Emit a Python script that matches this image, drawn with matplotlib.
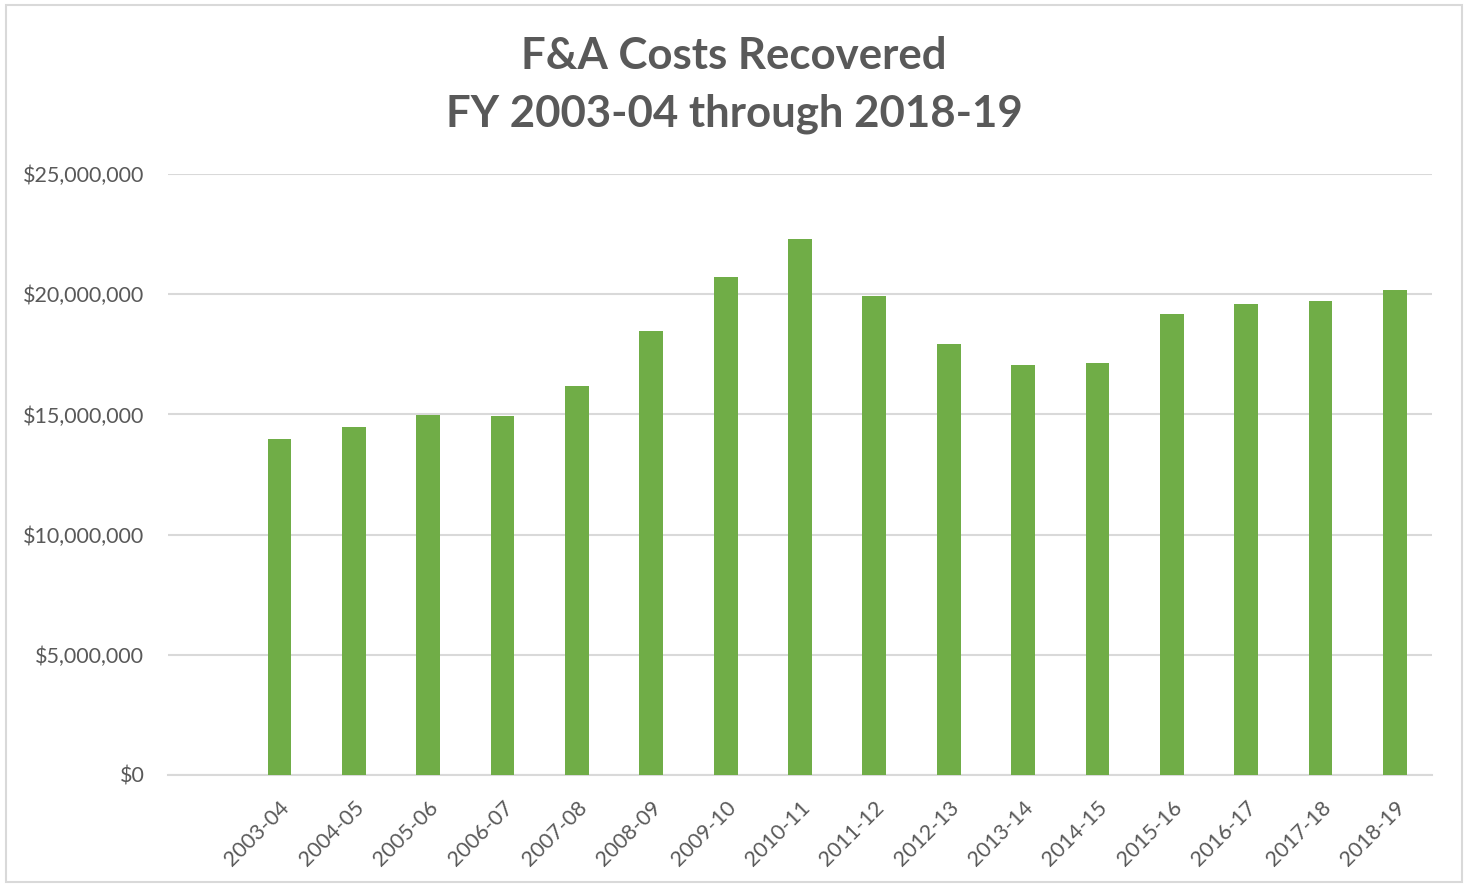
import matplotlib.pyplot as plt
from matplotlib.patches import Rectangle
from matplotlib.ticker import FuncFormatter

years = ['2003-04', '2004-05', '2005-06', '2006-07', '2007-08', '2008-09',
         '2009-10', '2010-11', '2011-12', '2012-13', '2013-14', '2014-15',
         '2015-16', '2016-17', '2017-18', '2018-19']
recovered = [13.96, 14.49, 14.97, 14.93, 16.18, 18.47, 20.72, 22.30,
             19.93, 17.93, 17.05, 17.14, 19.18, 19.59, 19.72, 20.17]
recovered = [v * 1e6 for v in recovered]
y_ticks = [0, 5e6, 10e6, 15e6, 20e6, 25e6]
title_lines = ['F&A Costs Recovered', 'FY 2003-04 through 2018-19']

text_color = '#595959'
plt.rcParams['font.family'] = ['Lato', 'DejaVu Sans']

fig = plt.figure(figsize=(14.68, 8.86), dpi=100)
ax = fig.add_axes([0.1144, 0.1253, 0.8611, 0.6783])

# first category slot is left empty, as in the original
x = list(range(1, len(years) + 1))
ax.bar(x, recovered, width=0.32, color='#70ad47', zorder=3)

ax.set_xlim(-0.5, len(years) + 0.5)
ax.set_ylim(0, 25e6)
ax.set_yticks(y_ticks)
ax.yaxis.set_major_formatter(FuncFormatter(lambda v, p: '${:,.0f}'.format(v)))
ax.grid(axis='y', color='#d9d9d9', linewidth=1.5, zorder=0)

ax.set_xticks(x)
ax.set_xticklabels(years, rotation=45, ha='right', rotation_mode='anchor')
ax.tick_params(axis='x', length=0, pad=16, labelsize=15.5, labelcolor=text_color)
ax.tick_params(axis='y', length=0, pad=17, labelsize=15.5, labelcolor=text_color)

for side in ['top', 'right', 'left']:
    ax.spines[side].set_visible(False)
ax.spines['bottom'].set_color('#d9d9d9')
ax.spines['bottom'].set_linewidth(1.5)

fig.text(0.5, 0.937, title_lines[0], ha='center', va='center', fontsize=31.5,
         fontweight='bold', color=text_color)
fig.text(0.5, 0.872, title_lines[1], ha='center', va='center', fontsize=31.5,
         fontweight='bold', color=text_color)

# light frame around the whole chart
fig.patches.append(Rectangle((0.004, 0.004), 0.992, 0.99, transform=fig.transFigure,
                             fill=False, edgecolor='#d9d9d9', linewidth=1.5))

fig.savefig('out.png', dpi=100)
